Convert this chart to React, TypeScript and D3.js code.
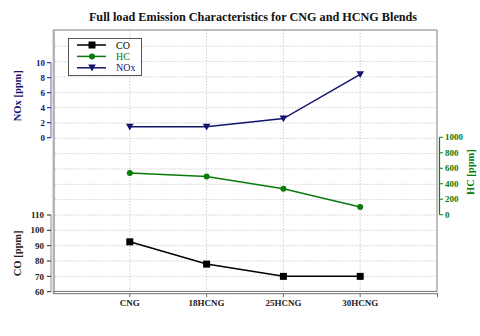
import React from "react"
import * as d3 from "d3"

// data
const categories = ["CNG", "18HCNG", "25HCNG", "30HCNG"]
const coValues = [92.5, 78, 70, 70]
const hcValues = [540, 495, 335, 100]
const noxValues = [1.45, 1.45, 2.55, 8.45]

const coTicks = [60, 70, 80, 90, 100, 110]
const hcTicks = [0, 200, 400, 600, 800, 1000]
const noxTicks = [0, 2, 4, 6, 8, 10]
const gridTicks = d3.range(70, 230, 10) // horizontal grid, in CO units

const W = 480
const H = 336
const left = 53
const right = 437
const top = 30
const bottom = 291.7

const CO_COLOR = "#000000"
const HC_COLOR = "#0a7a0a"
const NOX_COLOR = "#14146e"
const FONT = "'Liberation Serif', 'Times New Roman', serif"

export default function App() {
    const x = d3.scaleLinear().domain([0, 5]).range([left, right])
    const coY = d3.scaleLinear().domain([60, 110]).range([bottom, 215])
    const hcY = d3.scaleLinear().domain([0, 1000]).range([214.7, 137.3])
    const noxY = d3.scaleLinear().domain([0, 10]).range([137.7, 62.7])

    const xi = (i: number) => x(i + 1)

    const coLine = d3.line<number>().x((_, i) => xi(i)).y(d => coY(d))
    const hcLine = d3.line<number>().x((_, i) => xi(i)).y(d => hcY(d))
    const noxLine = d3.line<number>().x((_, i) => xi(i)).y(d => noxY(d))

    const square = (cx: number, cy: number, color: string, key: any) => (
        <rect key={key} x={cx - 3.5} y={cy - 3.5} width={7} height={7} fill={color} />
    )
    const dot = (cx: number, cy: number, color: string, key: any) => (
        <circle key={key} cx={cx} cy={cy} r={3} fill={color} />
    )
    const tri = (cx: number, cy: number, color: string, key: any) => (
        <path key={key} d={`M${cx - 3.8},${cy - 3.2}L${cx + 3.8},${cy - 3.2}L${cx},${cy + 3.6}Z`} fill={color} />
    )

    const legendItems = [
        { text: "CO", color: CO_COLOR, marker: square },
        { text: "HC", color: HC_COLOR, marker: dot },
        { text: "NOx", color: NOX_COLOR, marker: tri },
    ]

    return (
        <svg width={W} height={H} style={{ position: "absolute", left: 0, top: 0, background: "#fff" }}
            fontFamily={FONT}>
            {/* title */}
            <text x={253} y={21} textAnchor="middle" fontSize={12.2} fontWeight="bold" fill="#111">
                Full load Emission Characteristics for CNG and HCNG Blends
            </text>

            {/* grid */}
            <g stroke="#cfcfcf" strokeWidth={1} strokeDasharray="1.5,1.5">
                {gridTicks.map(t => (
                    <line key={"h" + t} x1={left + 2} x2={right} y1={coY(t)} y2={coY(t)} />
                ))}
                {categories.map((c, i) => (
                    <line key={"v" + c} x1={xi(i)} x2={xi(i)} y1={top} y2={bottom} />
                ))}
            </g>

            {/* frame */}
            <line x1={left} x2={right} y1={top} y2={top} stroke="#808080" strokeWidth={1} />
            <line x1={right} x2={right} y1={top} y2={bottom} stroke="#808080" strokeWidth={1} />
            <line x1={left + 0.8} x2={left + 0.8} y1={top} y2={bottom + 2} stroke="#b4b4b4" strokeWidth={2.5} />
            <line x1={left} x2={right} y1={bottom - 0.3} y2={bottom - 0.3} stroke="#707070" strokeWidth={1} />
            <line x1={left} x2={right + 1} y1={bottom + 2} y2={bottom + 2} stroke="#707070" strokeWidth={1} />

            {/* x axis ticks & labels */}
            <g>
                {categories.map((c, i) => (
                    <g key={c}>
                        <line x1={xi(i)} x2={xi(i)} y1={bottom + 2} y2={bottom + 5.5} stroke="#707070" />
                        <text x={xi(i)} y={306} textAnchor="middle" fontSize={9} fontWeight="bold" fill="#222">{c}</text>
                    </g>
                ))}
                <line x1={right + 0.5} x2={right + 0.5} y1={bottom + 2} y2={bottom + 5.5} stroke="#707070" />
            </g>

            {/* NOx axis */}
            <g>
                <line x1={51} x2={51} y1={noxY(0)} y2={noxY(10)} stroke="#9a9ad0" strokeWidth={1.5} />
                {noxTicks.map(t => (
                    <g key={t}>
                        <line x1={47} x2={51} y1={noxY(t)} y2={noxY(t)} stroke={NOX_COLOR} />
                        <text x={45} y={noxY(t)} dy="0.35em" textAnchor="end" fontSize={9} fontWeight="bold" fill={NOX_COLOR}>{t}</text>
                    </g>
                ))}
                <text transform={`translate(21,${noxY(5.6)}) rotate(-90)`} textAnchor="middle" fontSize={10.5}
                    fontWeight="bold" fill={NOX_COLOR}>NOx [ppm]</text>
            </g>

            {/* CO axis */}
            <g>
                <line x1={51} x2={51} y1={coY(60)} y2={coY(110)} stroke="#b4b4b4" strokeWidth={1.5} />
                {coTicks.map(t => (
                    <g key={t}>
                        <line x1={47} x2={51} y1={coY(t)} y2={coY(t)} stroke="#222" />
                        <text x={44} y={coY(t)} dy="0.35em" textAnchor="end" fontSize={9} fontWeight="bold" fill="#222">{t}</text>
                    </g>
                ))}
                <text transform={`translate(21,${coY(85)}) rotate(-90)`} textAnchor="middle" fontSize={10.5}
                    fontWeight="bold" fill="#222">CO [ppm]</text>
            </g>

            {/* HC axis */}
            <g>
                <line x1={439.5} x2={439.5} y1={hcY(0)} y2={hcY(1000)} stroke={HC_COLOR} strokeWidth={1.2} />
                {hcTicks.map(t => (
                    <g key={t}>
                        <line x1={439.5} x2={443} y1={hcY(t)} y2={hcY(t)} stroke={HC_COLOR} />
                        <text x={445} y={hcY(t)} dy="0.35em" textAnchor="start" fontSize={9} fontWeight="bold" fill={HC_COLOR}>{t}</text>
                    </g>
                ))}
                <text transform={`translate(474,${hcY(550)}) rotate(-90)`} textAnchor="middle" fontSize={10.5}
                    fontWeight="bold" fill={HC_COLOR}>HC [ppm]</text>
            </g>

            {/* series */}
            <path d={coLine(coValues) || ""} fill="none" stroke={CO_COLOR} strokeWidth={1.5} />
            {coValues.map((v, i) => square(xi(i), coY(v), CO_COLOR, "co" + i))}
            <path d={hcLine(hcValues) || ""} fill="none" stroke={HC_COLOR} strokeWidth={1.5} />
            {hcValues.map((v, i) => dot(xi(i), hcY(v), HC_COLOR, "hc" + i))}
            <path d={noxLine(noxValues) || ""} fill="none" stroke={NOX_COLOR} strokeWidth={1.5} />
            {noxValues.map((v, i) => tri(xi(i), noxY(v), NOX_COLOR, "nox" + i))}

            {/* legend */}
            <g>
                <rect x={68.5} y={38.5} width={73} height={37} fill="#fff" stroke="#555" strokeWidth={1} />
                {legendItems.map((d, i) => {
                    const ly = 45 + i * 11.4
                    return (
                        <g key={d.text}>
                            <line x1={77} x2={106} y1={ly} y2={ly} stroke={d.color} strokeWidth={1.5} />
                            {d.marker(92, ly, d.color, "m")}
                            <text x={116} y={ly} dy="0.35em" fontSize={10} fill={d.color}>{d.text}</text>
                        </g>
                    )
                })}
            </g>
        </svg>
    )
}
